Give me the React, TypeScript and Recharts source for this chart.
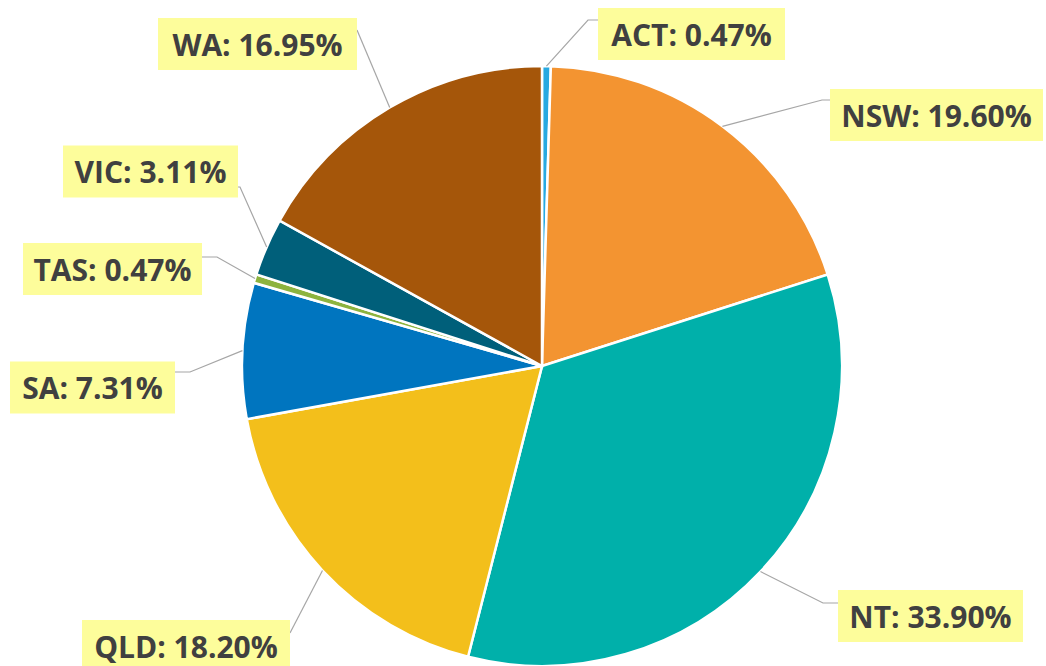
import React from "react";
import { PieChart, Pie, Cell } from "recharts";

const STATES = ["ACT", "NSW", "NT", "QLD", "SA", "TAS", "VIC", "WA"];
const SHARES = [0.47, 19.6, 33.9, 18.2, 7.31, 0.47, 3.11, 16.95];
const COLORS = ["#27A9E1", "#F39431", "#00B0AA", "#F3BF1B", "#0075BF", "#8DB33E", "#005F7A", "#A5560A"];

// label box layout relative to the pie centre: box centre, box width, leader elbow
const LABEL_LAYOUT = [
  { bx: 149.5, by: -332, bw: 187, ex: 46, ey: -346 },
  { bx: 394.5, by: -251, bw: 213, ex: 280, ey: -266 },
  { bx: 388.5, by: 250, bw: 185, ex: 281, ey: 237 },
  { bx: -356, by: 280, bw: 208, ex: -252, ey: 267 },
  { bx: -449.5, by: 21.5, bw: 165, ex: -352, ey: 6 },
  { bx: -429.5, by: -97, bw: 179, ex: -325, ey: -109 },
  { bx: -391.5, by: -194.5, bw: 175, ex: -302, ey: -179 },
  { bx: -284.5, by: -322, bw: 199, ex: -185, ey: -336 },
];

const data = STATES.map((s, i) => ({ name: s, value: SHARES[i] }));

const RAD = Math.PI / 180;
const BOX_H = 52;

const renderLabel = (props: any) => {
  const { cx, cy, midAngle, outerRadius, index, name, value } = props;
  const L = LABEL_LAYOUT[index];
  const sx = cx + outerRadius * Math.cos(-midAngle * RAD);
  const sy = cy + outerRadius * Math.sin(-midAngle * RAD);
  const ex = cx + L.ex;
  const ey = cy + L.ey;
  const bcx = cx + L.bx;
  const bcy = cy + L.by;
  const left = bcx - L.bw / 2;
  const right = bcx + L.bw / 2;
  const edgeX = ex > right ? right : ex < left ? left : ex;
  const pts = `${sx},${sy} ${ex},${ey} ${edgeX},${ey}`;
  return (
    <g>
      <polyline points={pts} fill="none" stroke="#A6A6A6" strokeWidth={1.2} />
      <rect x={left} y={bcy - BOX_H / 2} width={L.bw} height={BOX_H} fill="#FDFD9B" />
      <text
        x={bcx}
        y={bcy}
        textAnchor="middle"
        dominantBaseline="central"
        fontFamily="'Open Sans', sans-serif"
        fontWeight={700}
        fontSize={30}
        fill="#404040"
      >
        {`${name}: ${value.toFixed(2)}%`}
      </text>
    </g>
  );
};

export default function App() {
  return (
    <div style={{ position: "absolute", left: 0, top: 0, width: 1046, height: 666, background: "#fff" }}>
      <PieChart width={1046} height={666} margin={{ top: 0, right: 0, bottom: 0, left: 0 }}>
        <Pie
          data={data}
          dataKey="value"
          nameKey="name"
          cx={542}
          cy={366}
          outerRadius={300}
          startAngle={90}
          endAngle={-270}
          stroke="#FFFFFF"
          strokeWidth={2.5}
          label={renderLabel}
          labelLine={false}
          isAnimationActive={false}
        >
          {data.map((d, i) => (
            <Cell key={d.name} fill={COLORS[i]} />
          ))}
        </Pie>
      </PieChart>
    </div>
  );
}
